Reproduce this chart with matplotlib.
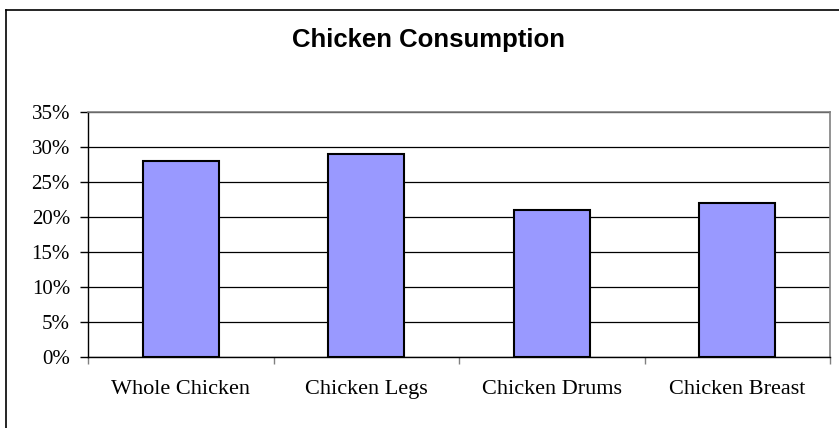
import matplotlib
matplotlib.use("Agg")
import matplotlib.pyplot as plt
from matplotlib.lines import Line2D
from matplotlib.ticker import FixedLocator, NullFormatter, FixedFormatter

categories = ["Whole Chicken", "Chicken Legs", "Chicken Drums", "Chicken Breast"]
values = [28, 29, 21, 22]
y_ticks = [0, 5, 10, 15, 20, 25, 30, 35]
y_labels = ["0%", "5%", "10%", "15%", "20%", "25%", "30%", "35%"]
title = "Chicken Consumption"

W, H = 839, 428
fig = plt.figure(figsize=(W / 100, H / 100), dpi=100)
fig.patch.set_facecolor("white")

# outer chart frame (left and top visible, cropped on right/bottom)
fig.add_artist(Line2D([6 / W, 6 / W], [0, 1 - 10 / H], transform=fig.transFigure, color="black", lw=1.2))
fig.add_artist(Line2D([6 / W, 1], [1 - 10 / H, 1 - 10 / H], transform=fig.transFigure, color="black", lw=1.2))

left, right, top, bottom = 88, 830, 111.7, 357.3
ax = fig.add_axes([left / W, 1 - bottom / H, (right - left) / W, (bottom - top) / H])

x = list(range(len(categories)))
ax.bar(x, values, width=0.41, color="#9999FF", edgecolor="black", linewidth=1.5, zorder=3)

ax.set_xlim(-0.5, len(categories) - 0.5)
ax.set_ylim(0, 35)

serif = ["Liberation Serif", "DejaVu Serif"]
ax.set_yticks(y_ticks)
ax.set_yticklabels(y_labels, fontfamily=serif, fontsize=15)
ax.yaxis.grid(True, color="black", lw=0.9, zorder=1)
ax.set_axisbelow(True)

ax.xaxis.set_major_locator(FixedLocator([i - 0.5 for i in range(len(categories) + 1)]))
ax.xaxis.set_major_formatter(NullFormatter())
ax.xaxis.set_minor_locator(FixedLocator(x))
ax.xaxis.set_minor_formatter(FixedFormatter(categories))
ax.tick_params(axis="x", which="minor", length=0, pad=16, labelsize=16)
for lab in ax.get_xticklabels(minor=True):
    lab.set_fontfamily(serif)
ax.tick_params(axis="x", which="major", length=5, width=1, color="#808080", direction="out")
ax.tick_params(axis="y", which="major", length=6, width=1, color="black", pad=7, direction="out")

for s in ["top", "right"]:
    ax.spines[s].set_color("#808080")
    ax.spines[s].set_linewidth(1.2)
ax.spines["left"].set_color("black")
ax.spines["bottom"].set_color("black")
ax.spines["left"].set_linewidth(1.0)
ax.spines["bottom"].set_linewidth(1.0)

fig.text(428 / W, 1 - 47.5 / H, title, ha="center", va="baseline",
         fontfamily=["Liberation Sans", "DejaVu Sans"], fontweight="bold", fontsize=18.5)

fig.savefig("out.png", dpi=100)
